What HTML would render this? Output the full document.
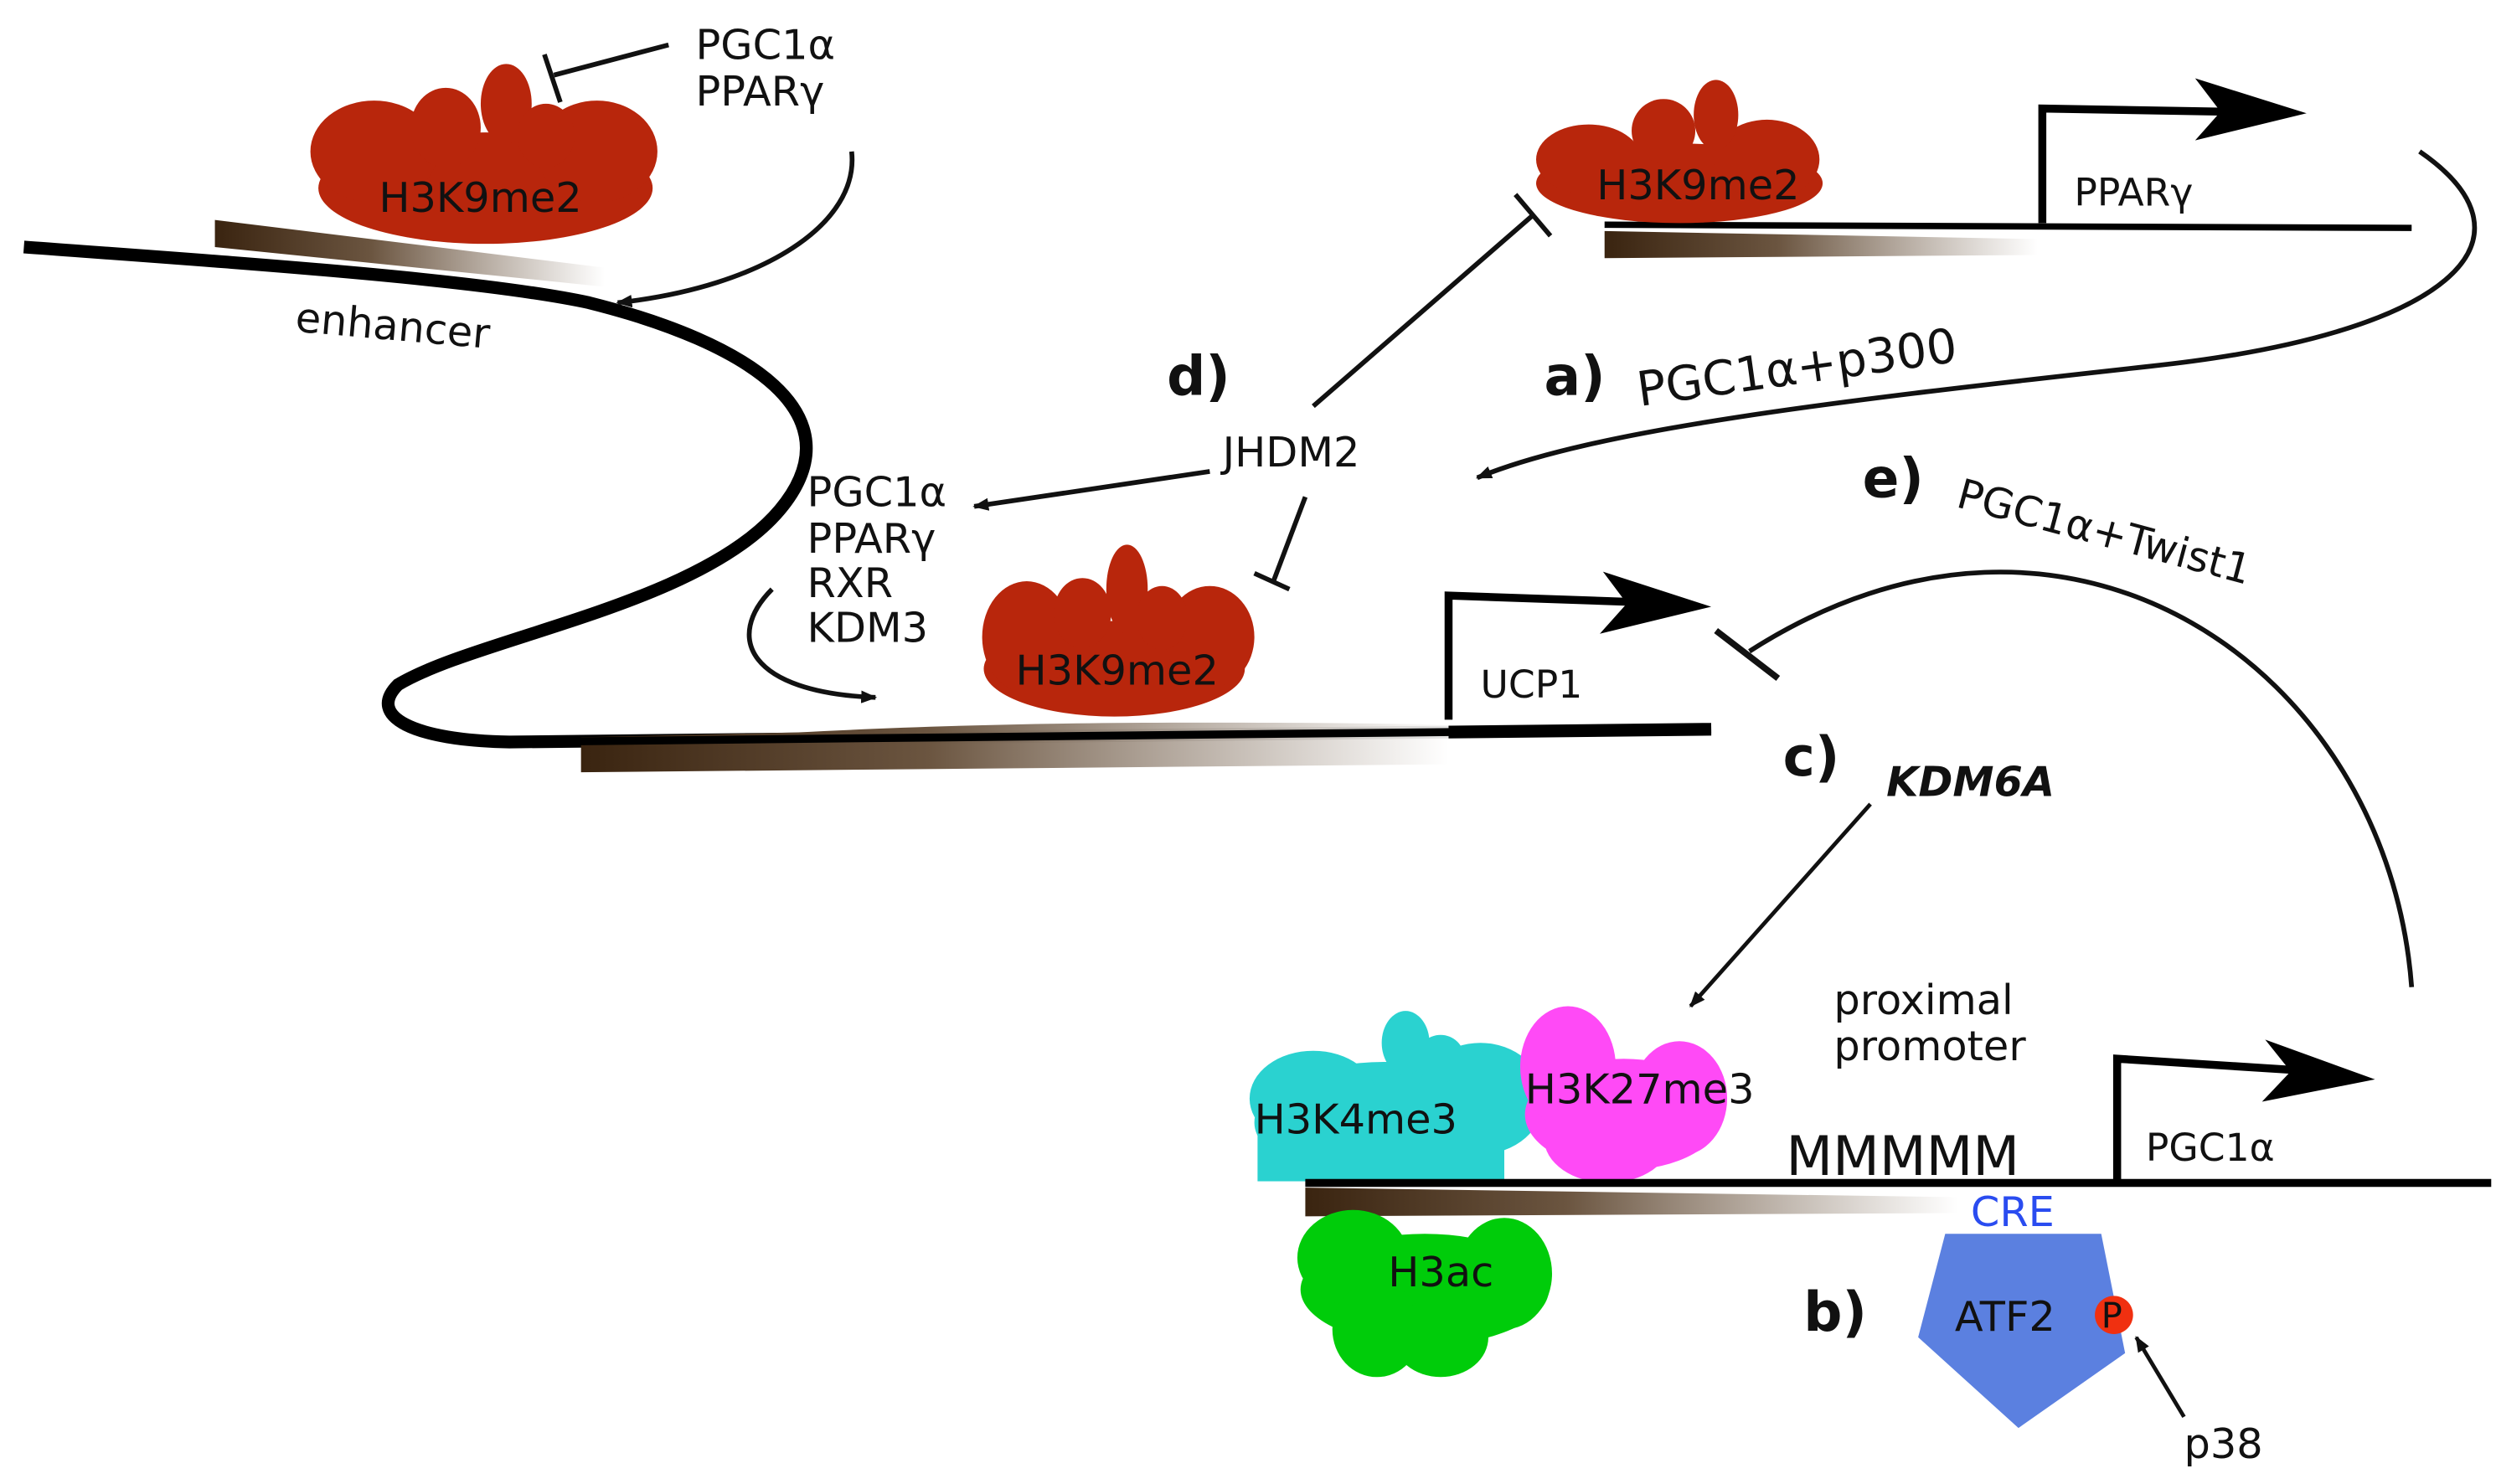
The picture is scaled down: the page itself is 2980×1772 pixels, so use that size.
<!DOCTYPE html>
<html><head><meta charset="utf-8"><style>
html,body{margin:0;padding:0;background:#fff;width:2980px;height:1772px;overflow:hidden}
svg{display:block}
text{font-family:"DejaVu Sans","Liberation Sans",sans-serif;fill:#111}
</style></head><body>
<svg width="2980" height="1772" viewBox="0 0 1568 932" xmlns="http://www.w3.org/2000/svg">
<defs>
<linearGradient id="g" x1="0" x2="1" y1="0" y2="0"><stop offset="0" stop-color="#3a2410"/><stop offset="0.4" stop-color="#6b5540"/><stop offset="1" stop-color="#fff" stop-opacity="0.9"/></linearGradient>
<marker id="ah" markerWidth="10" markerHeight="8" refX="9" refY="4" orient="auto" markerUnits="userSpaceOnUse" viewBox="0 0 10 8"><path d="M0,0 L10,4 L0,8 Z" fill="#111"/></marker>
</defs>

<!-- enhancer strand -->
<path d="M135,138 L380,168 L380,180 L135,155 Z" fill="url(#g)"/>
<path d="M15,155 C150,165 300,175 370,190 C470,215 540,260 490,320 C440,380 300,400 250,430 C230,450 260,465 320,466 L1075,458" fill="none" stroke="#000" stroke-width="8"/>
<path d="M365,463 L500,460 C600,455 700,452 910,455 L910,480 L365,485 Z" fill="url(#g)"/>
<path d="M320,466 L1075,458" fill="none" stroke="#000" stroke-width="5"/>

<!-- blob top-left -->
<g fill="#b8260c">
<ellipse cx="305" cy="118" rx="105" ry="35"/>
<ellipse cx="235" cy="95" rx="40" ry="32"/>
<ellipse cx="375" cy="95" rx="38" ry="32"/>
<ellipse cx="280" cy="80" rx="22" ry="25"/>
<ellipse cx="318" cy="65" rx="16" ry="25"/>
<ellipse cx="343" cy="85" rx="18" ry="20"/>
</g>
<text x="238" y="133" font-size="26">H3K9me2</text>
<line x1="420" y1="28" x2="348" y2="47" stroke="#111" stroke-width="3"/>
<line x1="342" y1="34" x2="352" y2="64" stroke="#111" stroke-width="3"/>
<text x="437" y="37" font-size="26">PGC1α</text>
<text x="437" y="66" font-size="26">PPARγ</text>
<path d="M535,95 C540,140 480,180 388,190" fill="none" stroke="#111" stroke-width="3" marker-end="url(#ah)"/>
<text x="185" y="208" font-size="26" transform="rotate(5 185 208)">enhancer</text>

<!-- top right PPARg -->
<path d="M1008,145 L1280,150 L1280,160 L1008,162 Z" fill="url(#g)"/>
<line x1="1008" y1="141" x2="1515" y2="143" stroke="#000" stroke-width="4"/>
<g fill="#b8260c">
<ellipse cx="1055" cy="115" rx="90" ry="25"/>
<ellipse cx="998" cy="100" rx="33" ry="22"/>
<ellipse cx="1110" cy="100" rx="33" ry="25"/>
<ellipse cx="1045" cy="82" rx="20" ry="20"/>
<ellipse cx="1078" cy="72" rx="14" ry="22"/>
</g>
<text x="1003" y="125" font-size="26">H3K9me2</text>
<path d="M1283,140 L1283,68 L1398,70" fill="none" stroke="#000" stroke-width="5"/>
<polygon points="1449,71 1379,49 1395,70 1379,88" fill="#000"/>
<text x="1303" y="129" font-size="24">PPARγ</text>
<path d="M1520,95 C1600,150 1540,210 1350,230 C1150,252 1000,270 928,300" fill="none" stroke="#111" stroke-width="3" marker-end="url(#ah)"/>
<text x="970" y="248" font-size="34" font-weight="bold">a)</text>
<text x="1030" y="255" font-size="30" transform="rotate(-8 1030 255)">PGC1α+p300</text>

<!-- d) JHDM2 -->
<text x="733" y="248" font-size="34" font-weight="bold">d)</text>
<text x="768" y="293" font-size="26">JHDM2</text>
<line x1="825" y1="255" x2="963" y2="135" stroke="#111" stroke-width="3"/>
<line x1="952" y1="122" x2="974" y2="148" stroke="#111" stroke-width="3"/>
<line x1="760" y1="296" x2="612" y2="318" stroke="#111" stroke-width="3" marker-end="url(#ah)"/>
<line x1="820" y1="312" x2="800" y2="365" stroke="#111" stroke-width="3"/>
<line x1="788" y1="360" x2="810" y2="370" stroke="#111" stroke-width="3"/>
<text x="507" y="318" font-size="26">PGC1α</text>
<text x="507" y="347" font-size="26">PPARγ</text>
<text x="507" y="375" font-size="26">RXR</text>
<text x="507" y="403" font-size="26">KDM3</text>
<path d="M485,370 C455,400 470,435 550,438" fill="none" stroke="#111" stroke-width="3" marker-end="url(#ah)"/>

<!-- UCP1 blob -->
<g fill="#b8260c">
<ellipse cx="700" cy="420" rx="82" ry="30"/>
<ellipse cx="645" cy="400" rx="28" ry="35"/>
<ellipse cx="760" cy="400" rx="28" ry="32"/>
<ellipse cx="680" cy="385" rx="18" ry="22"/>
<ellipse cx="708" cy="370" rx="13" ry="28"/>
<ellipse cx="730" cy="388" rx="16" ry="20"/>
</g>
<text x="638" y="430" font-size="26">H3K9me2</text>
<path d="M910,452 L910,374 L1025,378" fill="none" stroke="#000" stroke-width="5"/>
<polygon points="1075,381 1007,359 1022,379 1005,398" fill="#000"/>
<text x="930" y="438" font-size="24">UCP1</text>

<!-- e) arc -->
<path d="M1515,620 C1500,420 1300,280 1099,409" fill="none" stroke="#111" stroke-width="3"/>
<line x1="1078" y1="396" x2="1117" y2="426" stroke="#111" stroke-width="4"/>
<text x="1170" y="312" font-size="34" font-weight="bold">e)</text>
<text x="1228" y="318" font-size="26" transform="rotate(15 1228 318)">PGC1α+Twist1</text>

<!-- c) KDM6A -->
<text x="1120" y="487" font-size="34" font-weight="bold">c)</text>
<text x="1185" y="500" font-size="26" font-weight="bold" font-style="italic">KDM6A</text>
<line x1="1175" y1="505" x2="1062" y2="632" stroke="#111" stroke-width="2.5" marker-end="url(#ah)"/>
<text x="1152" y="637" font-size="26">proximal</text>
<text x="1152" y="666" font-size="26">promoter</text>

<!-- bottom strand -->
<path d="M820,746 L1230,752 L1230,762 L820,764 Z" fill="url(#g)"/>
<g fill="#00cc0a">
<ellipse cx="895" cy="810" rx="78" ry="35"/>
<ellipse cx="850" cy="790" rx="35" ry="30"/>
<ellipse cx="945" cy="800" rx="30" ry="35"/>
<ellipse cx="865" cy="835" rx="28" ry="30"/>
<ellipse cx="905" cy="840" rx="30" ry="25"/>
</g>
<text x="872" y="808" font-size="26">H3ac</text>
<g fill="#2ad2d0">
<ellipse cx="870" cy="705" rx="82" ry="38"/>
<ellipse cx="825" cy="690" rx="40" ry="30"/>
<ellipse cx="930" cy="690" rx="40" ry="35"/>
<ellipse cx="883" cy="655" rx="15" ry="20"/>
<ellipse cx="905" cy="665" rx="15" ry="15"/>
<rect x="790" y="710" width="155" height="32"/>
</g>
<g fill="#ff4af6">
<ellipse cx="1020" cy="700" rx="62" ry="35"/>
<ellipse cx="985" cy="670" rx="30" ry="38"/>
<ellipse cx="1055" cy="690" rx="30" ry="36"/>
<ellipse cx="1010" cy="715" rx="40" ry="28"/>
</g>
<text x="788" y="712" font-size="26">H3K4me3</text>
<text x="958" y="693" font-size="26">H3K27me3</text>
<line x1="820" y1="743" x2="1565" y2="743" stroke="#000" stroke-width="5"/>
<text x="1122" y="738" font-size="34">MMMMM</text>
<path d="M1330,741 L1330,665 L1440,672" fill="none" stroke="#000" stroke-width="5"/>
<polygon points="1492,678 1423,653 1439,673 1421,692" fill="#000"/>
<text x="1348" y="729" font-size="24">PGC1α</text>
<text x="1238" y="770" font-size="26" style="fill:#2a4cf0">CRE</text>
<polygon points="1222,775 1320,775 1335,850 1268,897 1205,840" fill="#5b80e0"/>
<text x="1228" y="836" font-size="26">ATF2</text>
<circle cx="1328" cy="826" r="12" fill="#f03010"/>
<text x="1320" y="834" font-size="22">P</text>
<text x="1133" y="836" font-size="34" font-weight="bold">b)</text>
<line x1="1372" y1="890" x2="1342" y2="840" stroke="#111" stroke-width="2.5" marker-end="url(#ah)"/>
<text x="1372" y="916" font-size="26">p38</text>
</svg>
</body></html>
